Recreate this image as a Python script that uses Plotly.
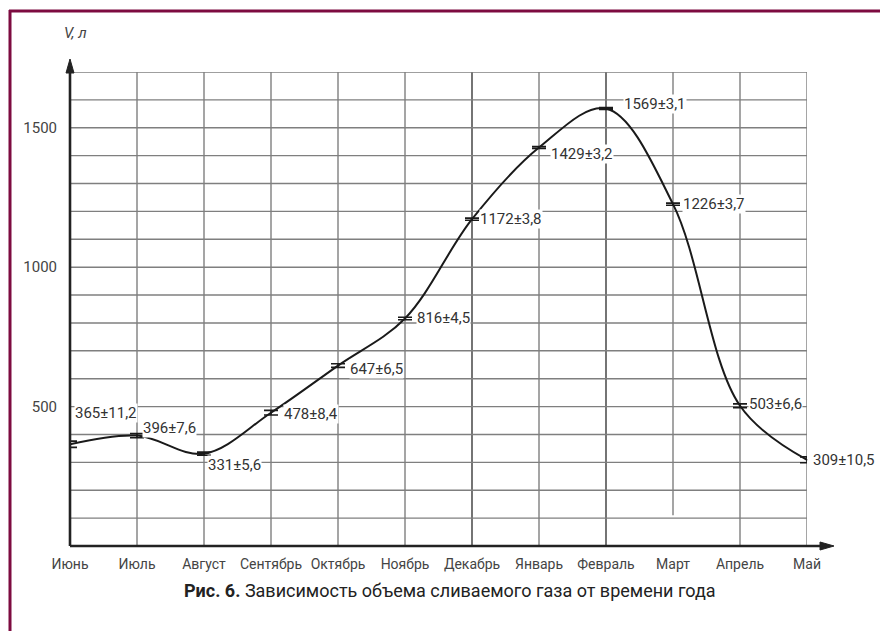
import plotly.graph_objects as go

# Monthly drained gas volume, litres, with measurement uncertainty
months = ["Июнь", "Июль", "Август", "Сентябрь", "Октябрь", "Ноябрь",
          "Декабрь", "Январь", "Февраль", "Март", "Апрель", "Май"]
volume = [365, 396, 331, 478, 647, 816, 1172, 1429, 1569, 1226, 503, 309]
error = [11.2, 7.6, 5.6, 8.4, 6.5, 4.5, 3.8, 3.2, 3.1, 3.7, 6.6, 10.5]

# label offsets (pixels) relative to each point
label_dx = [4, 5, 3, 12, 11, 11, 7, 11, 17, 9, 8, 5]
label_dy = [31, 8, -11, -1, -3, 0, 0, -6, 5, 0, 2, 0]

y_ticks = [500, 1000, 1500]
y_max = 1700

W, H = 880, 631
L, R, T, B = 70, 73, 72, 85
pw, ph = W - L - R, H - T - B

def px_x(p):
    return (p - L) / pw

def px_y(p):
    return (H - B - p) / ph

fmt = lambda v, e: f"{v}±{str(e).replace('.', ',')}"

TECH = "Liberation Sans Narrow, Roboto, sans-serif"
GRID = "#7f7f7f"
x_idx = list(range(len(months)))

fig = go.Figure()
fig.add_trace(go.Scatter(
    x=x_idx, y=volume, mode="lines+markers",
    line=dict(color="#1a1a1a", width=2, shape="spline", smoothing=1.0),
    marker=dict(size=1, color="#1a1a1a"),
    error_y=dict(type="data", array=error, visible=True,
                 color="#1a1a1a", thickness=1.6, width=7),
    hoverinfo="skip", showlegend=False, cliponaxis=False,
))

annotations = []
for i, (v, e) in enumerate(zip(volume, error)):
    annotations.append(dict(
        x=i, y=v, xref="x", yref="y", text=fmt(v, e), showarrow=False,
        xanchor="left", yanchor="middle", xshift=label_dx[i], yshift=label_dy[i],
        font=dict(family="Roboto, sans-serif", size=15, color="#333333"),
        bgcolor="white", borderpad=0,
    ))

annotations.append(dict(
    x=px_x(75), y=px_y(33), xref="paper", yref="paper", text="<i>V, л</i>",
    showarrow=False, xanchor="center", yanchor="middle",
    font=dict(family="Roboto, sans-serif", size=15, color="#444444"),
))
annotations.append(dict(
    x=px_x(450), y=px_y(590), xref="paper", yref="paper",
    text="<b>Рис. 6.</b> Зависимость объема сливаемого газа от времени года",
    showarrow=False, xanchor="center", yanchor="middle",
    font=dict(family="Roboto, sans-serif", size=18, color="#222222"),
))

shapes = []
# vertical grid lines (the March line stops short of the axis)
for i in x_idx:
    y0 = 110 if months[i] == "Март" else 0
    col = "#3a3a3a" if months[i] in ("Декабрь", "Февраль") else GRID
    shapes.append(dict(type="line", xref="x", yref="y", x0=i, x1=i, y0=y0, y1=y_max,
                       line=dict(color=col, width=1.4), layer="below"))
# horizontal grid lines every 100 l
for g in range(100, y_max + 1, 100):
    shapes.append(dict(type="line", xref="x", yref="y", x0=0, x1=len(months) - 1,
                       y0=g, y1=g, line=dict(color=GRID, width=1.4), layer="below"))

# axes with arrowheads
shapes.append(dict(type="line", xref="paper", yref="paper", x0=0, x1=0,
                   y0=0, y1=px_y(64), line=dict(color="#222222", width=2.6)))
shapes.append(dict(type="path", xref="paper", yref="paper",
                   path=f"M {-4/pw} {px_y(73)} L 0 {px_y(59)} L {4/pw} {px_y(73)} Z",
                   fillcolor="#222222", line=dict(color="#222222", width=1)))
shapes.append(dict(type="line", xref="paper", yref="paper", x0=0, x1=px_x(828),
                   y0=0, y1=0, line=dict(color="#222222", width=2.6)))
shapes.append(dict(type="path", xref="paper", yref="paper",
                   path=f"M {px_x(820)} {4/ph} L {px_x(834)} 0 L {px_x(820)} {-4/ph} Z",
                   fillcolor="#222222", line=dict(color="#222222", width=1)))

# frame lines
MAROON = "#7d0b40"
shapes.append(dict(type="line", xref="paper", yref="paper", x0=px_x(10), x1=px_x(10),
                   y0=px_y(10), y1=px_y(640), line=dict(color=MAROON, width=3)))
shapes.append(dict(type="line", xref="paper", yref="paper", x0=px_x(9), x1=px_x(890),
                   y0=px_y(11), y1=px_y(11), line=dict(color=MAROON, width=3)))

fig.update_layout(
    width=W, height=H, margin=dict(l=L, r=R, t=T, b=B),
    paper_bgcolor="white", plot_bgcolor="white",
    xaxis=dict(range=[0, len(months) - 1], tickvals=x_idx, ticktext=months,
               showgrid=False, zeroline=False, showline=False, ticks="",
               tickangle=0, ticklabelstandoff=8,
               tickfont=dict(family="Roboto, sans-serif", size=14, color="#444444")),
    yaxis=dict(range=[0, y_max], tickvals=y_ticks, showgrid=False, zeroline=False,
               showline=False, ticks="", ticklabelstandoff=12,
               tickfont=dict(family="Roboto, sans-serif", size=15, color="#444444")),
    shapes=shapes, annotations=annotations,
)

fig.write_html("out.html")
